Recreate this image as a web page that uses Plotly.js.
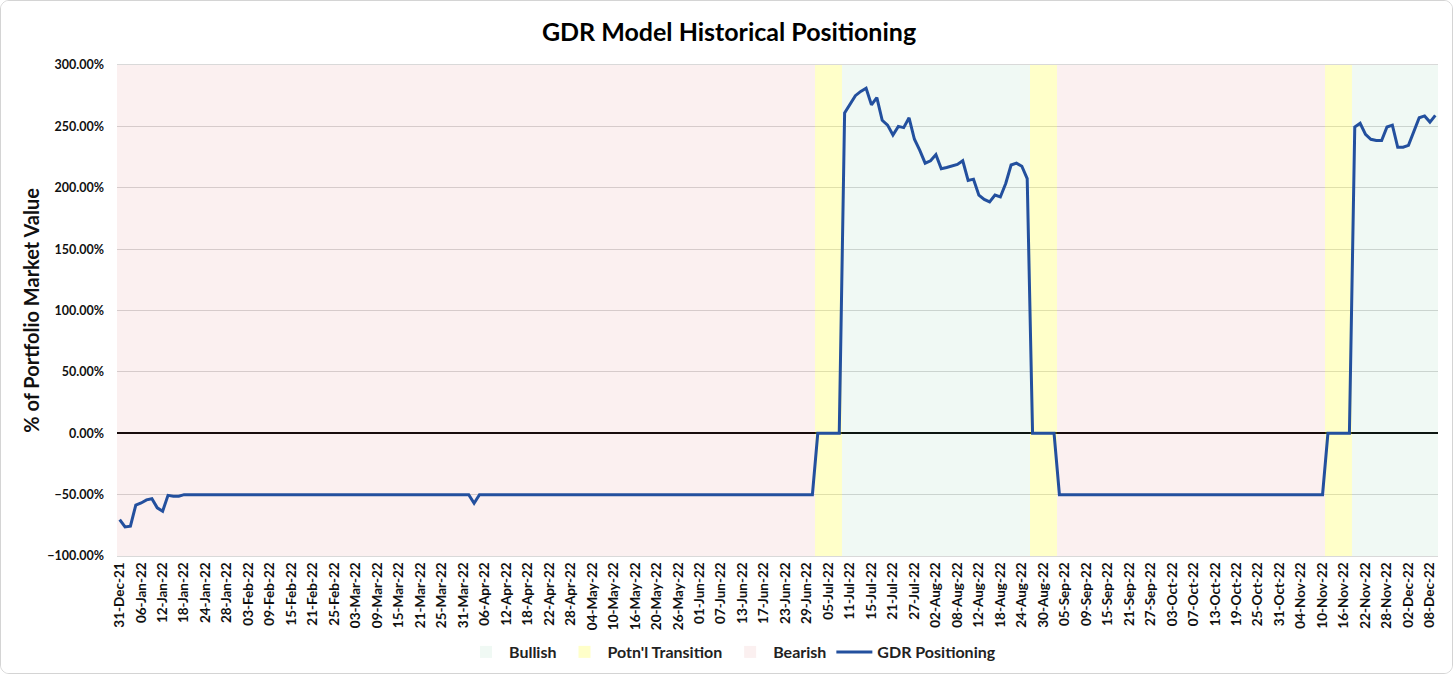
<!DOCTYPE html>
<html>
<head>
<meta charset="utf-8">
<script src="https://cdn.plot.ly/plotly-3.0.1.min.js"></script>
<style>
html,body{margin:0;padding:0;background:#fff;}
#frame{position:absolute;left:0;top:0;width:1453px;height:674px;box-sizing:border-box;border:1px solid #d4d4d4;border-radius:9px;overflow:hidden;background:#fff;}
#chart{position:absolute;left:0;top:0;width:1451px;height:672px;}
</style>
</head>
<body>
<div id="frame"><div id="chart"></div></div>
<script>
// Trading dates (category axis)
const dates = [
'31-Dec-21',
'03-Jan-22','04-Jan-22','05-Jan-22','06-Jan-22','07-Jan-22','10-Jan-22','11-Jan-22','12-Jan-22','13-Jan-22','14-Jan-22',
'17-Jan-22','18-Jan-22','19-Jan-22','20-Jan-22','21-Jan-22','24-Jan-22','25-Jan-22','26-Jan-22','27-Jan-22','28-Jan-22','31-Jan-22',
'01-Feb-22','02-Feb-22','03-Feb-22','04-Feb-22','07-Feb-22','08-Feb-22','09-Feb-22','10-Feb-22','11-Feb-22','14-Feb-22',
'15-Feb-22','16-Feb-22','17-Feb-22','18-Feb-22','21-Feb-22','22-Feb-22','23-Feb-22','24-Feb-22','25-Feb-22','28-Feb-22',
'01-Mar-22','02-Mar-22','03-Mar-22','04-Mar-22','07-Mar-22','08-Mar-22','09-Mar-22','10-Mar-22','11-Mar-22','14-Mar-22',
'15-Mar-22','16-Mar-22','17-Mar-22','18-Mar-22','21-Mar-22','22-Mar-22','23-Mar-22','24-Mar-22','25-Mar-22','28-Mar-22',
'29-Mar-22','30-Mar-22','31-Mar-22',
'01-Apr-22','04-Apr-22','05-Apr-22','06-Apr-22','07-Apr-22','08-Apr-22','11-Apr-22','12-Apr-22','13-Apr-22','14-Apr-22',
'15-Apr-22','18-Apr-22','19-Apr-22','20-Apr-22','21-Apr-22','22-Apr-22','25-Apr-22','26-Apr-22','27-Apr-22','28-Apr-22','29-Apr-22',
'02-May-22','03-May-22','04-May-22','05-May-22','06-May-22','09-May-22','10-May-22','11-May-22','12-May-22','13-May-22',
'16-May-22','17-May-22','18-May-22','19-May-22','20-May-22','23-May-22','24-May-22','25-May-22','26-May-22','27-May-22',
'30-May-22','31-May-22',
'01-Jun-22','02-Jun-22','03-Jun-22','06-Jun-22','07-Jun-22','08-Jun-22','09-Jun-22','10-Jun-22','13-Jun-22','14-Jun-22',
'15-Jun-22','16-Jun-22','17-Jun-22','20-Jun-22','21-Jun-22','22-Jun-22','23-Jun-22','24-Jun-22','27-Jun-22','28-Jun-22',
'29-Jun-22','30-Jun-22',
'01-Jul-22','04-Jul-22','05-Jul-22','06-Jul-22','07-Jul-22','08-Jul-22','11-Jul-22','12-Jul-22','13-Jul-22','14-Jul-22',
'15-Jul-22','18-Jul-22','19-Jul-22','20-Jul-22','21-Jul-22','22-Jul-22','25-Jul-22','26-Jul-22','27-Jul-22','28-Jul-22','29-Jul-22',
'01-Aug-22','02-Aug-22','03-Aug-22','04-Aug-22','05-Aug-22','08-Aug-22','09-Aug-22','10-Aug-22','11-Aug-22','12-Aug-22',
'15-Aug-22','16-Aug-22','17-Aug-22','18-Aug-22','19-Aug-22','22-Aug-22','23-Aug-22','24-Aug-22','25-Aug-22','26-Aug-22',
'29-Aug-22','30-Aug-22','31-Aug-22',
'01-Sep-22','02-Sep-22','05-Sep-22','06-Sep-22','07-Sep-22','08-Sep-22','09-Sep-22','12-Sep-22','13-Sep-22','14-Sep-22',
'15-Sep-22','16-Sep-22','19-Sep-22','20-Sep-22','21-Sep-22','22-Sep-22','23-Sep-22','26-Sep-22','27-Sep-22','28-Sep-22',
'29-Sep-22','30-Sep-22',
'03-Oct-22','04-Oct-22','05-Oct-22','06-Oct-22','07-Oct-22','10-Oct-22','11-Oct-22','12-Oct-22','13-Oct-22','14-Oct-22',
'17-Oct-22','18-Oct-22','19-Oct-22','20-Oct-22','21-Oct-22','24-Oct-22','25-Oct-22','26-Oct-22','27-Oct-22','28-Oct-22','31-Oct-22',
'01-Nov-22','02-Nov-22','03-Nov-22','04-Nov-22','07-Nov-22','08-Nov-22','09-Nov-22','10-Nov-22','11-Nov-22','14-Nov-22',
'15-Nov-22','16-Nov-22','17-Nov-22','18-Nov-22','21-Nov-22','22-Nov-22','23-Nov-22','24-Nov-22','25-Nov-22','28-Nov-22',
'29-Nov-22','30-Nov-22',
'01-Dec-22','02-Dec-22','05-Dec-22','06-Dec-22','07-Dec-22','08-Dec-22','09-Dec-22'
];

// GDR positioning, % of portfolio market value
const positioning = [
-70.3,-76.3,-75.7,-58.5,-56.8,-54.3,-53.3,-60.8,-63.5,-50.6,-51.3,-51.3,-50,
-50,-50,-50,-50,-50,-50,-50,-50,-50,-50,
-50,-50,-50,-50,-50,-50,-50,-50,-50,-50,
-50,-50,-50,-50,-50,-50,-50,-50,-50,-50,
-50,-50,-50,-50,-50,-50,-50,-50,-50,-50,
-50,-50,-50,-50,-50,-50,-50,-50,-50,-50,
-50,-50,-50,
-57,
-50,-50,-50,-50,-50,-50,-50,-50,-50,-50,
-50,-50,-50,-50,-50,-50,-50,-50,-50,-50,
-50,-50,-50,-50,-50,-50,-50,-50,-50,-50,
-50,-50,-50,-50,-50,-50,-50,-50,-50,-50,
-50,-50,-50,-50,-50,-50,-50,-50,-50,-50,
-50,-50,-50,-50,-50,-50,-50,-50,-50,-50,
-50,-50,-50,
0,0,0,0,0,
261,268.5,275,278.5,281,267.5,273.5,255,251,243,
250,249,257,239.5,230.5,220,222,227,215.5,216.5,
217.5,219,222,206,207,194,190.5,188.5,194,192.5,
203.5,218.5,220,217.5,207.5,
0,0,0,0,0,
-50,-50,-50,-50,-50,-50,-50,-50,-50,-50,
-50,-50,-50,-50,-50,-50,-50,-50,-50,-50,
-50,-50,-50,-50,-50,-50,-50,-50,-50,-50,
-50,-50,-50,-50,-50,-50,-50,-50,-50,-50,
-50,-50,-50,-50,-50,-50,-50,-50,-50,-50,
0,0,0,0,0,
249.5,252.5,243.5,239.5,238.5,238.5,249.5,251,233,233,
234.5,246.5,257,258.5,253.5,259
];

// Regime periods (start date of each period, and its type)
const regimeStart = ['31-Dec-21','01-Jul-22','08-Jul-22','26-Aug-22','02-Sep-22','11-Nov-22','18-Nov-22'];
const regimeType  = ['Bearish','Transition','Bullish','Transition','Bearish','Transition','Bullish'];

const regimeNames  = ['Bullish','Transition','Bearish'];
const regimeLabels = ['Bullish',"Potn'l Transition",'Bearish'];
const regimeColors = ['rgba(120,200,155,0.11)','rgba(255,255,30,0.24)','rgba(220,120,120,0.11)'];

const yMin = -100, yMax = 300;

// regime of each date
const regimeOfDate = [];
let k = 0;
for (let i = 0; i < dates.length; i++) {
  if (k + 1 < regimeStart.length && dates[i] === regimeStart[k + 1]) k++;
  regimeOfDate.push(regimeType[k]);
}

const font = "Lato, 'Open Sans', sans-serif";

const traces = regimeNames.map((r, j) => ({
  type: 'bar',
  name: regimeLabels[j],
  x: dates,
  y: regimeOfDate.map(t => t === r ? (yMax - yMin) : null),
  base: yMin,
  marker: {color: regimeColors[j], line: {width: 0}},
  hoverinfo: 'skip'
}));

traces.push({
  type: 'scatter',
  mode: 'lines',
  name: 'GDR Positioning',
  x: dates,
  y: positioning,
  line: {color: '#23509E', width: 3},
  hoverinfo: 'skip'
});

const tickDates = dates.filter((d, i) => i % 4 === 0);

const layout = {
  width: 1451, height: 672,
  margin: {l: 116, r: 14, t: 64, b: 117},
  paper_bgcolor: '#ffffff',
  plot_bgcolor: '#ffffff',
  barmode: 'overlay',
  bargap: 0,
  hovermode: false,
  showlegend: true,
  font: {family: font, color: '#111111'},
  title: {
    text: 'GDR Model Historical Positioning',
    font: {family: font, size: 25, weight: 'bold', color: '#000000'},
    x: 728/1451, xanchor: 'center', xref: 'container',
    yref: 'container', y: 1 - 31/672, yanchor: 'middle'
  },
  xaxis: {
    type: 'category',
    tickmode: 'array',
    tickvals: tickDates,
    ticktext: tickDates,
    tickangle: -90,
    tickfont: {family: font, size: 13.5, weight: 'bold', color: '#111111'},
    showgrid: false,
    showline: true,
    linecolor: '#d9d9d9',
    linewidth: 1,
    mirror: true,
    ticks: ''
  },
  yaxis: {
    range: [yMin, yMax],
    dtick: 50,
    tickformat: '.2f',
    ticksuffix: '%',
    tickfont: {family: font, size: 12.5, weight: 'bold', color: '#111111'},
    ticklabelstandoff: 12,
    showgrid: true,
    gridcolor: '#d6d6d6',
    gridwidth: 1,
    zeroline: true,
    zerolinecolor: '#000000',
    zerolinewidth: 2,
    showline: false,
    ticks: '',
    title: {
      text: '% of Portfolio Market Value',
      font: {family: font, size: 20, weight: 'bold', color: '#111111'},
      standoff: 2
    }
  },
  legend: {
    orientation: 'h',
    x: 731/1451, xanchor: 'center', xref: 'container',
    y: 1 - 651/672, yanchor: 'middle', yref: 'container',
    font: {family: font, size: 16, weight: 'bold', color: '#222222'},
    traceorder: 'normal',
    itemwidth: 36,
    bgcolor: 'rgba(0,0,0,0)'
  }
};

Plotly.newPlot('chart', traces, layout, {displayModeBar: false, staticPlot: true});
</script>
</body>
</html>
